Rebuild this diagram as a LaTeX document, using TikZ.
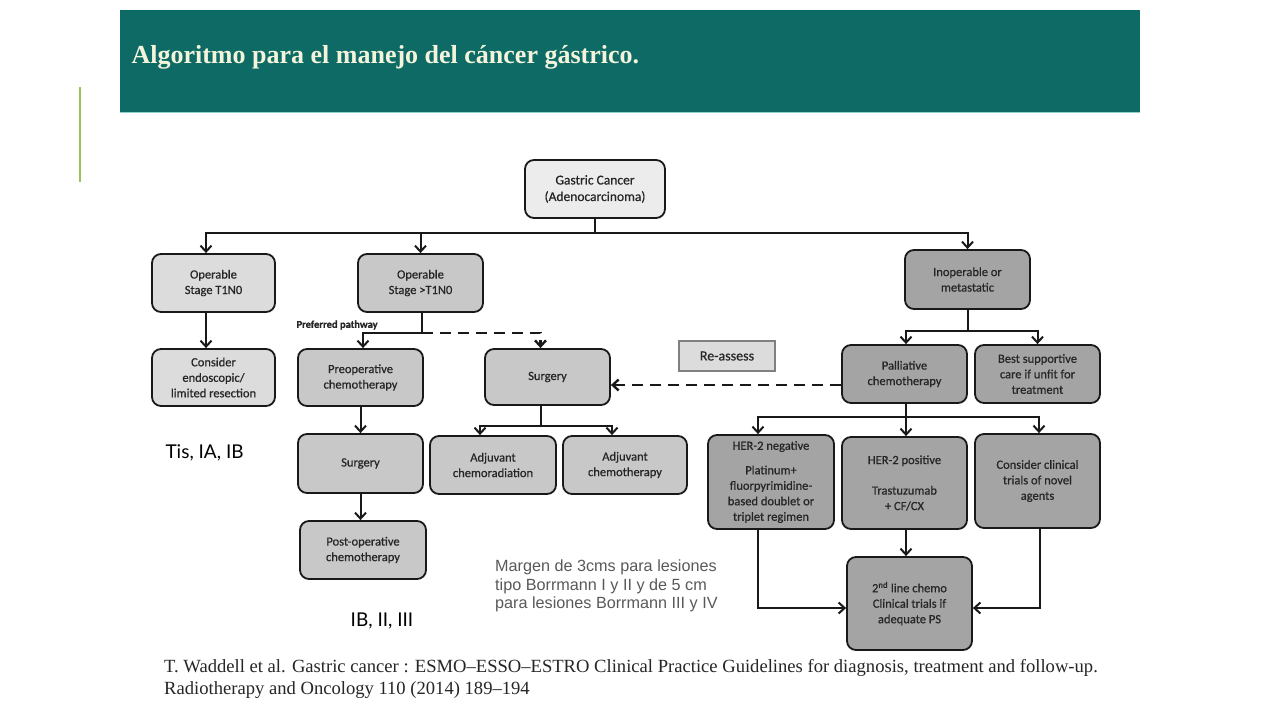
\documentclass[tikz,border=0pt]{standalone}
\usepackage{fontspec}
\setmainfont{Liberation Serif}
\newfontfamily\boxfont[FakeBold=0.6]{Carlito}
\newfontfamily\labfont{Lato}
\newfontfamily\arialfont{Liberation Sans}
\usetikzlibrary{arrows.meta}
\definecolor{headcol}{HTML}{0D6A65}
\definecolor{headline}{HTML}{8FD0CC}
\definecolor{titlecol}{HTML}{F4F4DC}
\definecolor{greenbar}{HTML}{9CC35A}
\definecolor{fillA}{HTML}{ECECEC}
\definecolor{fillB}{HTML}{DCDCDC}
\definecolor{fillC}{HTML}{C8C8C8}
\definecolor{fillD}{HTML}{A4A4A4}
\definecolor{txtgray}{HTML}{595959}
\begin{document}
\begin{tikzpicture}[x=1pt,y=-1pt,
  box/.style={draw=black!90, line width=1.8pt, rounded corners=9pt, align=center, inner sep=0pt,
    font=\boxfont\fontsize{12.5}{15.5}\selectfont, text=black!85},
  link/.style={line width=2pt, draw=black!90},
  arr/.style={link, -{Straight Barb[length=6pt,width=11pt]}},
  dashlink/.style={link, dash pattern=on 11pt off 7pt, line width=2.4pt}]
\useasboundingbox[fill=white] (0,0) rectangle (1280,720);
% header
\fill[headcol] (120,10) rectangle (1140,113);
\draw[headline, line width=1.2pt] (120,112.5) -- (1140,112.5);
\node[anchor=west, font=\bfseries\fontsize{26}{30}\selectfont, text=titlecol] (title) at (128,57) {Algoritmo para el manejo del cáncer gástrico.};
\draw[greenbar, line width=2pt] (80,87) -- (80,182);
% boxes
\node[box, fill=fillA, minimum width=140pt, minimum height=58pt, font=\boxfont\fontsize{13.5}{16.5}\selectfont] (gc) at (595,189) {Gastric Cancer\\(Adenocarcinoma)};
\node[box, fill=fillB, minimum width=123pt, minimum height=58pt] (op1) at (213.5,283) {Operable\\Stage T1N0};
\node[box, fill=fillC, minimum width=125pt, minimum height=58pt] (op2) at (420.5,283) {Operable\\Stage >T1N0};
\node[box, fill=fillD, minimum width=125pt, minimum height=59pt] (inop) at (967.5,279.5) {Inoperable or\\metastatic};
\node[box, fill=fillB, minimum width=123pt, minimum height=57pt] (cons) at (213.5,377.5) {Consider\\endoscopic/\\limited resection};
\node[box, fill=fillC, minimum width=125pt, minimum height=57pt] (preop) at (360.5,377.5) {Preoperative\\chemotherapy};
\node[box, fill=fillC, minimum width=125pt, minimum height=56pt] (surg) at (547.5,377) {Surgery};
\node[draw=black!50, line width=2.6pt, fill=fillB, minimum width=96pt, minimum height=30pt, inner sep=0pt,
  font=\boxfont\fontsize{14}{16}\selectfont, text=black!85] (reas) at (727,356) {Re-assess};
\node[box, fill=fillD, minimum width=125pt, minimum height=58pt] (pall) at (904.5,374) {Palliative\\chemotherapy};
\node[box, fill=fillD, minimum width=125pt, minimum height=58pt] (bsc) at (1037.5,374) {Best supportive\\care if unfit for\\treatment};
\node[box, fill=fillC, minimum width=125pt, minimum height=59pt] (surg2) at (360.5,463.5) {Surgery};
\node[box, fill=fillC, minimum width=126pt, minimum height=58pt] (adjr) at (493,465) {Adjuvant\\chemoradiation};
\node[box, fill=fillC, minimum width=124pt, minimum height=58pt] (adjc) at (625,465) {Adjuvant\\chemotherapy};
\node[box, fill=fillC, minimum width=126pt, minimum height=58pt] (post) at (363,550) {Post-operative\\chemotherapy};
\node[box, fill=fillD, minimum width=126pt, minimum height=94pt] (her2n) at (771,482) {HER-2 negative\\[9pt]Platinum+\\fluorpyrimidine-\\based doublet or\\triplet regimen};
\node[box, fill=fillD, minimum width=125pt, minimum height=92pt] (her2p) at (904.5,483) {HER-2 positive\\[15pt]Trastuzumab\\+ CF/CX};
\node[box, fill=fillD, minimum width=125pt, minimum height=94pt] (ctri) at (1037.5,481) {Consider clinical\\trials of novel\\agents};
\node[box, fill=fillD, minimum width=125pt, minimum height=93pt] (second) at (909.5,603.5) {2\textsuperscript{nd} line chemo\\Clinical trials if\\adequate PS};
% labels
\node[font=\boxfont\bfseries\fontsize{10.5}{12}\selectfont, text=black!85, anchor=west] (pref) at (293,325) {Preferred pathway};
\node[font=\labfont\fontsize{19}{22}\selectfont, anchor=west] (tis) at (162,453) {Tis, IA, IB};
\node[font=\labfont\fontsize{19}{22}\selectfont] (ib) at (382,621) {IB, II, III};
\node[font=\arialfont\fontsize{16.2}{18.5}\selectfont, text=txtgray, anchor=north west, align=left, inner sep=0pt] (margen) at (495,560)
  {Margen de 3cms para lesiones\\tipo Borrmann I y II y de 5 cm\\para lesiones Borrmann III y IV};
\node[font=\fontsize{18.6}{22}\selectfont, anchor=north west, align=left, inner sep=0pt, text=black!85] (cite) at (164,659)
  {T. Waddell et al. Gastric cancer : ESMO--ESSO--ESTRO Clinical Practice Guidelines for diagnosis, treatment and follow-up.\\Radiotherapy and Oncology 110 (2014) 189--194};
% connectors
\coordinate (j0) at (595,233);
\draw[link] (gc.south) -- (j0);
\draw[arr] (j0) -| ([xshift=-7.5pt]op1.north);
\draw[arr] (j0) -| (op2.north);
\draw[arr] (j0) -| (inop.north);
\draw[arr] ([xshift=-7.5pt]op1.south) -- ([xshift=-7.5pt]cons.north);
\coordinate (j1) at (421.5,333);
\draw[link] (op2.south -| j1) -- (j1);
\draw[arr] (j1) -| ([xshift=2.5pt]preop.north);
\draw[dashlink, -{Straight Barb[length=6pt,width=11pt]}] (j1) -| ([xshift=-7pt]surg.north);
\draw[arr] (preop.south) -- (surg2.north);
\draw[arr] (surg2.south) -- (surg2.south |- post.north);
\coordinate (j2) at (541,426);
\draw[link] (surg.south -| j2) -- (j2);
\draw[arr] (j2) -| ([xshift=-13pt]adjr.north);
\draw[arr] (j2) -| ([xshift=-13pt]adjc.north);
\draw[dashlink, -{Straight Barb[length=6pt,width=11pt]}] (pall.west |- 0,385) -- (surg.east |- 0,385);
\coordinate (j3) at (967.5,331);
\draw[link] (inop.south) -- (j3);
\draw[arr] (j3) -| ([xshift=1.5pt]pall.north);
\draw[arr] (j3) -| (bsc.north);
\coordinate (j4) at (906,417);
\draw[link] (pall.south -| j4) -- (j4);
\draw[arr] (j4) -| (758,0 |- her2n.north);
\draw[arr] (j4) -- (j4 |- her2p.north);
\draw[arr] (j4) -| (1039,0 |- ctri.north);
\draw[arr] (her2p.south -| j4) -- (second.north -| j4);
\draw[arr] (758,0 |- her2n.south) |- (second.west |- 0,608);
\draw[arr] (1040,0 |- ctri.south) |- (second.east |- 0,608);
\end{tikzpicture}
\end{document}
